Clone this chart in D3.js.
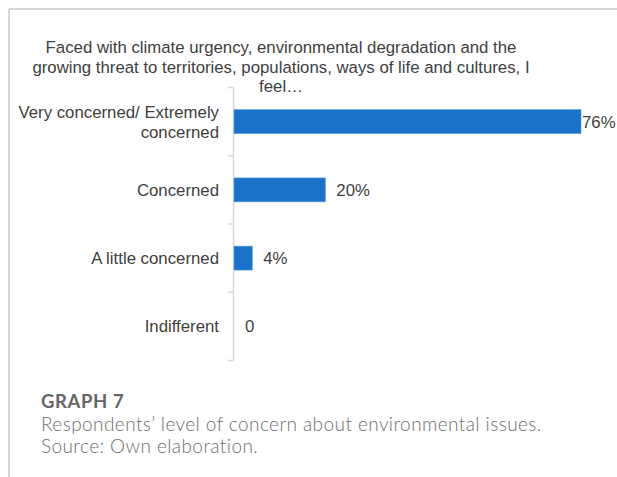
<!DOCTYPE html>
<html>
<head>
<meta charset="utf-8">
<script src="https://cdn.jsdelivr.net/npm/d3@7"></script>
<style>
  html, body { margin: 0; padding: 0; background: #fff; }
  svg { display: block; }
</style>
</head>
<body>
<svg id="chart" width="617" height="477"></svg>
<script>
// Survey responses: level of concern about environmental issues
const categories = [
  ["Very concerned/ Extremely", "concerned"],
  ["Concerned"],
  ["A little concerned"],
  ["Indifferent"]
];
const values = [76, 20, 4, 0];
const valueLabels = ["76%", "20%", "4%", "0"];
const titleLines = [
  "Faced with climate urgency, environmental degradation and the",
  "growing threat to territories, populations, ways of life and cultures, I",
  "feel…"
];
const captionLines = [
  "Respondents\u2019 level of concern about environmental issues.",
  "Source: Own elaboration."
];

const svg = d3.select("#chart");
const W = 617, H = 477;
const chartFont = "Liberation Sans, Arial, sans-serif";
const captionFont = "Lato, 'Open Sans', sans-serif";

// Page frame
svg.append("line").attr("x1", 9).attr("x2", W).attr("y1", 9).attr("y2", 9)
  .attr("stroke", "#c8c8c8").attr("stroke-width", 1.5);
svg.append("line").attr("x1", 9).attr("x2", 9).attr("y1", 9).attr("y2", H)
  .attr("stroke", "#c8c8c8").attr("stroke-width", 1.5);

const plot = { left: 234, top: 87.5, bottom: 360.5 };

const y = d3.scaleBand()
  .domain(d3.range(categories.length))
  .range([plot.top, plot.bottom])
  .paddingInner(0.65)
  .paddingOuter(0.325);

const x = d3.scaleLinear().domain([0, 76]).range([plot.left, 581]);

// Title
svg.append("g")
  .selectAll("text")
  .data(titleLines)
  .join("text")
  .attr("x", 281)
  .attr("y", (d, i) => 53 + i * 19.5)
  .attr("text-anchor", "middle")
  .attr("font-family", chartFont)
  .attr("font-size", 16.8)
  .attr("fill", "#404040")
  .text(d => d);

// Category axis with boundary ticks
const axisG = svg.append("g");
axisG.append("line")
  .attr("x1", plot.left - 0.5).attr("x2", plot.left - 0.5)
  .attr("y1", plot.top).attr("y2", plot.bottom)
  .attr("stroke", "#d9d9d9").attr("stroke-width", 1.5);
const step = y.step();
const boundaries = d3.range(categories.length + 1).map(i => plot.top + i * step);
axisG.selectAll(".tick")
  .data(boundaries)
  .join("line")
  .attr("x1", plot.left - 6).attr("x2", plot.left - 0.5)
  .attr("y1", d => d).attr("y2", d => d)
  .attr("stroke", "#d9d9d9").attr("stroke-width", 1.5);

// Category labels
const labels = svg.append("g")
  .selectAll("text")
  .data(categories)
  .join("text")
  .attr("text-anchor", "end")
  .attr("font-family", chartFont)
  .attr("font-size", 16.8)
  .attr("fill", "#404040")
  .attr("transform", (d, i) => `translate(219, ${y(i) + y.bandwidth() / 2})`);
labels.each(function(lines) {
  const t = d3.select(this);
  const n = lines.length;
  lines.forEach((line, j) => {
    t.append("tspan")
      .attr("x", 0)
      .attr("y", (j - (n - 1) / 2) * 20)
      .attr("dy", "0.35em")
      .text(line);
  });
});

// Bars
svg.append("g")
  .selectAll("rect")
  .data(values)
  .join("rect")
  .attr("x", x(0))
  .attr("y", (d, i) => y(i))
  .attr("width", d => x(d) - x(0))
  .attr("height", y.bandwidth())
  .attr("fill", "#1a73c9")
  .attr("stroke", "#4f97dc")
  .attr("stroke-width", d => d > 0 ? 0.6 : 0);

// Value labels
svg.append("g")
  .selectAll("text")
  .data(values)
  .join("text")
  .attr("x", (d, i) => x(d) + (i === 0 ? 1 : 11))
  .attr("y", (d, i) => y(i) + y.bandwidth() / 2)
  .attr("dy", "0.35em")
  .attr("font-family", chartFont)
  .attr("font-size", 16.8)
  .attr("fill", "#404040")
  .text((d, i) => valueLabels[i]);

// Caption
svg.append("text")
  .attr("x", 41).attr("y", 407.5)
  .attr("font-family", captionFont)
  .attr("font-weight", 700)
  .attr("font-size", 18.5)
  .attr("letter-spacing", 0.6)
  .attr("fill", "#666666")
  .text("GRAPH 7");
svg.append("g")
  .selectAll("text")
  .data(captionLines)
  .join("text")
  .attr("x", 41)
  .attr("y", (d, i) => 430.5 + i * 22.5)
  .attr("font-family", captionFont)
  .attr("font-weight", 300)
  .attr("font-size", 19)
  .attr("letter-spacing", 0.42)
  .attr("fill", "#6e6e6e")
  .text(d => d);
</script>
</body>
</html>
